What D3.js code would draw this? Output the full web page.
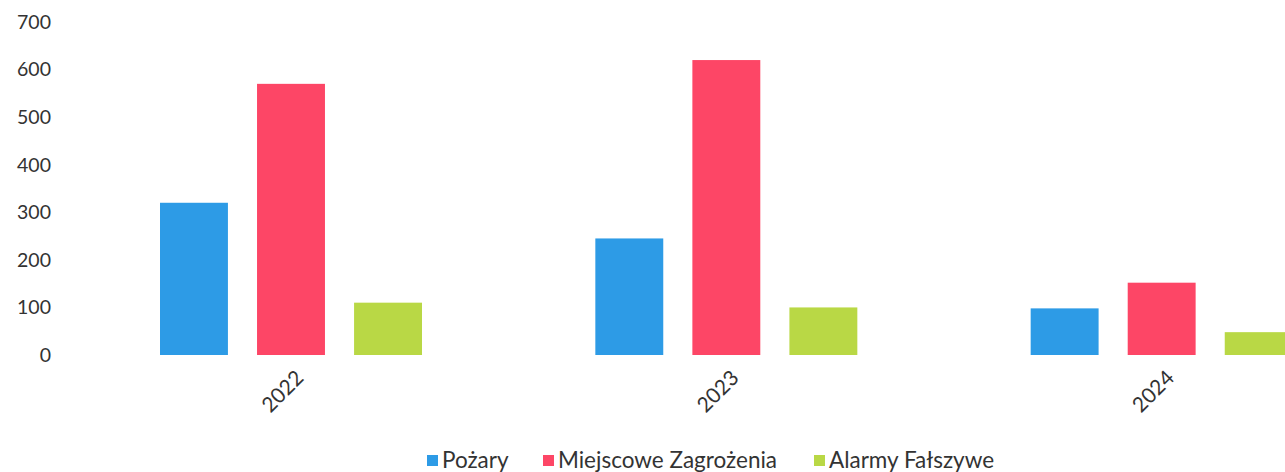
<!DOCTYPE html>
<html>
<head>
<meta charset="utf-8">
<script src="https://cdn.jsdelivr.net/npm/d3@7"></script>
<style>
  body { margin: 0; background: #fff; }
  text { font-family: Lato, "Open Sans", sans-serif; fill: #333; }
</style>
</head>
<body>
<svg id="chart" width="1285" height="472"></svg>
<script>
var years = ["2022", "2023", "2024"];
var series = ["Pożary", "Miejscowe Zagrożenia", "Alarmy Fałszywe"];
var pozary = [320, 245, 98];
var miejscowe = [570, 620, 152];
var alarmy = [110, 100, 48];
var yTicks = [0, 100, 200, 300, 400, 500, 600, 700];
var colors = ["#2d9be6", "#fd4666", "#b9d845"];

var values = [pozary, miejscowe, alarmy];

var svg = d3.select("#chart");

var x = d3.scaleBand()
  .domain(years)
  .range([72, 1378]);

var xInner = d3.scaleBand()
  .domain(series)
  .range([88, 350])
  .paddingInner(0.3);

var y = d3.scaleLinear()
  .domain([0, 700])
  .range([355, 22]);

// y labels, no axis line
svg.append("g")
  .selectAll("text")
  .data(yTicks)
  .enter().append("text")
  .attr("x", 51)
  .attr("y", function(d) { return y(d); })
  .attr("dy", "0.35em")
  .attr("text-anchor", "end")
  .style("font-size", "19.5px")
  .text(function(d) { return d; });

// bars
var groups = svg.append("g")
  .selectAll("g")
  .data(years)
  .enter().append("g")
  .attr("transform", function(d) { return "translate(" + x(d) + ",0)"; });

groups.selectAll("rect")
  .data(function(d, i) {
    return series.map(function(s, j) { return { s: s, v: values[j][i], c: colors[j] }; });
  })
  .enter().append("rect")
  .attr("x", function(d) { return xInner(d.s); })
  .attr("width", xInner.bandwidth())
  .attr("y", function(d) { return y(d.v); })
  .attr("height", function(d) { return y(0) - y(d.v); })
  .attr("fill", function(d) { return d.c; });

// rotated year labels
svg.append("g")
  .selectAll("text")
  .data(years)
  .enter().append("text")
  .attr("transform", function(d) {
    return "translate(" + (x(d) + x.bandwidth() / 2 + 10) + ",374) rotate(-45)";
  })
  .attr("text-anchor", "end")
  .attr("dy", "0.35em")
  .style("font-size", "21px")
  .text(function(d) { return d; });

// legend
var legendX = [427, 543, 814];
var legend = svg.append("g")
  .selectAll("g")
  .data(series)
  .enter().append("g")
  .attr("transform", function(d, i) { return "translate(" + legendX[i] + ",460)"; });

legend.append("rect")
  .attr("x", 0)
  .attr("y", -5)
  .attr("width", 11)
  .attr("height", 11)
  .attr("fill", function(d, i) { return colors[i]; });

legend.append("text")
  .attr("x", 15)
  .attr("y", 0)
  .attr("dy", "0.35em")
  .style("font-size", "22.5px")
  .text(function(d) { return d; });
</script>
</body>
</html>
